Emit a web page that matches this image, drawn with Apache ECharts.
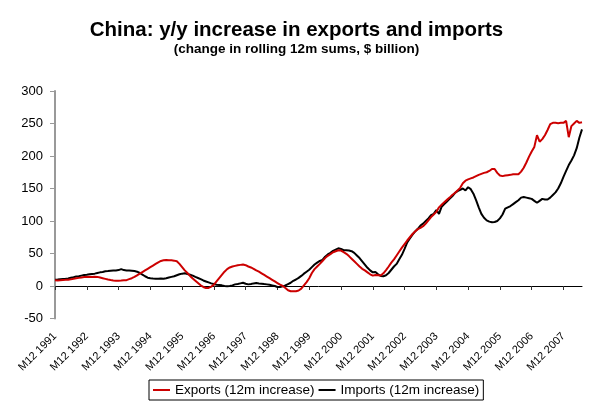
<!DOCTYPE html>
<html>
<head>
<meta charset="utf-8">
<script src="https://cdn.jsdelivr.net/npm/echarts@6/dist/echarts.min.js"></script>
<style>
html,body{margin:0;padding:0;background:#fff;}
#chart{width:593px;height:405px;}
</style>
</head>
<body>
<div id="chart"></div>
<script>
// Title texts
const titleText = 'China: y/y increase in exports and imports';
const subtitleText = '(change in rolling 12m sums, $ billion)';

// Monthly categories: M12 1991 ... M7 2008
const startYear = 1991, startMonth = 12, monthCount = 200;
const categories = [];
for (let k = 0; k < monthCount; k++) {
  const m0 = (startMonth - 1 + k);
  const y = startYear + Math.floor(m0 / 12);
  const m = (m0 % 12) + 1;
  categories.push('M' + m + ' ' + y);
}

// Y axis ticks
const yTicks = [-50, 0, 50, 100, 150, 200, 250, 300];

// Exports (12m increase), $ billion, index 0 = M12 1991
const exportsInc = [
  8.7,
  8.5, 8.8, 9.2, 9.5, 9.8, 10.2, 11, 11.8, 12.5, 13.2, 13.8, 14,
  14.2, 14, 14.3, 14, 13, 12, 11, 10, 9.2, 8.5, 8, 8,
  8.3, 8.8, 9, 10.5, 12, 14, 16.5, 19, 21.5, 24, 26.5, 29,
  31.5, 34, 36.5, 38.5, 39.5, 40, 39.5, 39.5, 39, 38, 34, 29,
  24, 20, 15.5, 11.5, 8, 4.5, 1, -1.5, -3, -3, -1, 2,
  7, 12, 17, 22, 26, 28.5, 30, 31, 32, 32.5, 33, 32,
  30, 28.5, 26.5, 24, 22, 19.5, 17, 14.5, 12, 9.5, 7, 4.5,
  2, 0, -3, -6.5, -8, -8, -8, -7, -4, 1, 6, 12,
  20, 26, 30, 34, 38.5, 43, 46.5, 49, 52, 53.5, 55, 54.5,
  52, 49.5, 46, 42, 38, 34, 30, 26.5, 24, 21, 18, 16,
  17, 16.5, 16, 19.5, 24.5, 30, 36, 41, 47, 53, 59, 64.5,
  70, 75, 80, 84, 87.5, 89.5, 92, 96, 101, 106, 110, 114,
  121, 125, 129, 132.5, 136, 140, 143, 147, 151, 158, 162, 164,
  165.5, 167, 169, 171, 172.5, 174, 175, 177, 180, 180, 174, 170,
  169, 170, 170.5, 171, 172, 172, 172, 176, 182, 190, 199, 207,
  214, 232, 222, 226, 232, 240, 249, 251, 251, 250.5, 251, 251,
  254, 229, 246, 250, 254, 251, 252
];

// Imports (12m increase), $ billion
const importsInc = [
  9.7,
  10, 10.5, 10.8, 11, 11.5, 12.8, 13.5, 14.5, 15, 16, 17, 17.4,
  18, 18.5, 19, 20, 21, 21.5, 22.6, 23, 23.5, 24, 24, 24.5,
  26, 24.5, 24, 24, 23.5, 23, 22, 20, 17.5, 15, 12.8, 12,
  11.5, 11.3, 11, 11.5, 11.3, 12, 13, 14, 15, 16.5, 18, 19,
  19.5, 18.5, 17.4, 16, 14, 12.3, 10.5, 8.5, 7, 5.5, 4, 3,
  2, 1.5, 1, 0, -0.5, 0, 1, 2.5, 3, 4, 5, 3.5,
  2.5, 3, 4, 4.6, 4, 3.6, 3, 2.5, 2, 1, 0, -1.5,
  -1.5, -0.5, 1, 3, 5, 8, 10, 12.5, 15.5, 19, 22, 25,
  29, 33, 36, 38.5, 40, 45, 48.5, 51, 54, 56, 58, 57,
  55, 55, 54.5, 53.5, 51, 47, 43, 38, 33, 28, 24, 21,
  21.5, 18, 15.5, 15, 16.5, 20, 25, 30, 34, 41, 48, 57,
  67, 73, 79, 84, 88, 93, 96, 100, 104, 109, 111, 117,
  111, 122, 126, 130, 134, 138, 143, 146, 148, 150, 147, 152,
  149, 142, 132, 121, 111, 105, 101, 99, 98, 98.5, 100, 104,
  110, 119, 121, 123, 126, 129, 132, 136, 137, 136, 135, 134,
  131, 128, 131, 134, 133, 133, 136, 140, 144, 150, 158, 168,
  177, 186, 193, 201, 212, 228, 241
];

const seriesNames = ['Exports (12m increase)', 'Imports (12m increase)'];

const FONT = "'Liberation Sans', Arial, sans-serif";
const chart = echarts.init(document.getElementById('chart'), null, {renderer: 'canvas'});
chart.setOption({
  backgroundColor: '#ffffff',
  animation: false,
  title: [
    {text: titleText, left: 'center', top: 20, padding: 0,
     textStyle: {fontFamily: FONT, fontSize: 20.5, fontWeight: 'bold', color: '#000'}},
    {text: subtitleText, left: 'center', top: 42, padding: 0,
     textStyle: {fontFamily: FONT, fontSize: 13.5, fontWeight: 'bold', color: '#000'}}
  ],
  grid: {left: 55, top: 91, width: 527, height: 227.5, containLabel: false},
  legend: {
    data: seriesNames,
    left: 149, top: 380,
    padding: [3, 4], itemGap: 4,
    itemWidth: 17, itemHeight: 2, icon: 'rect',
    borderColor: '#000', borderWidth: 1,
    textStyle: {fontFamily: FONT, fontSize: 13.5, color: '#000'}
  },
  xAxis: {
    type: 'category', data: categories, boundaryGap: false,
    axisLine: {onZero: true, lineStyle: {color: '#000', width: 1}},
    axisTick: {show: true, interval: 11, length: 4, lineStyle: {color: '#333'}},
    axisLabel: {interval: 11, rotate: 45, margin: 16, fontFamily: FONT, fontSize: 11, color: '#000',
                showMinLabel: true, hideOverlap: false},
    splitLine: {show: false}
  },
  yAxis: {
    type: 'value', min: yTicks[0], max: yTicks[yTicks.length - 1], interval: 50,
    axisLine: {show: true, lineStyle: {color: '#999', width: 2}},
    axisTick: {show: true, length: 5, lineStyle: {color: '#999'}},
    axisLabel: {margin: 12, fontFamily: FONT, fontSize: 13, color: '#000'},
    splitLine: {show: false}
  },
  series: [
    {name: seriesNames[0], type: 'line', data: exportsInc, showSymbol: false, symbol: 'none',
     lineStyle: {color: '#cc0000', width: 2}, itemStyle: {color: '#cc0000'}, z: 3},
    {name: seriesNames[1], type: 'line', data: importsInc, showSymbol: false, symbol: 'none',
     lineStyle: {color: '#000000', width: 2}, itemStyle: {color: '#000000'}, z: 2}
  ]
});
</script>
</body>
</html>
